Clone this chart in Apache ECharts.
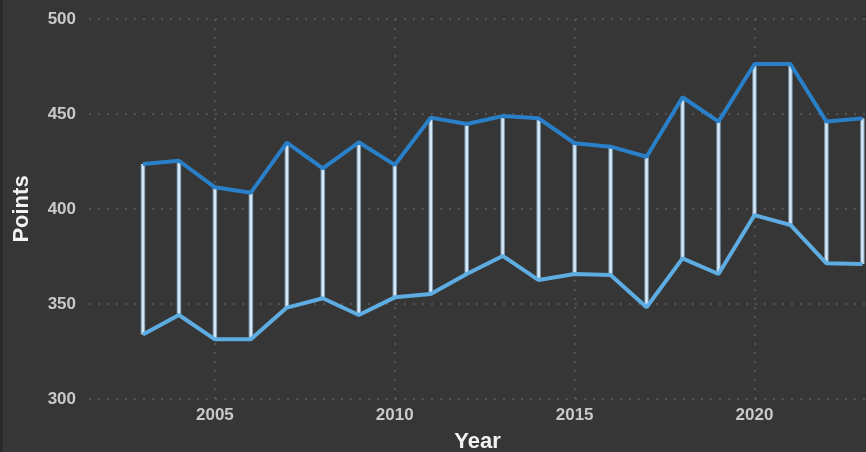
<!DOCTYPE html>
<html>
<head>
<meta charset="utf-8">
<script src="https://cdn.jsdelivr.net/npm/echarts@6/dist/echarts.min.js"></script>
<style>
  html, body { margin: 0; padding: 0; background: #363636; }
  #main { width: 866px; height: 452px; }
</style>
</head>
<body>
<div id="main"></div>
<script>
var years = [2003, 2004, 2005, 2006, 2007, 2008, 2009, 2010, 2011, 2012, 2013,
    2014, 2015, 2016, 2017, 2018, 2019, 2020, 2021, 2022, 2023]
var high = [423.7, 425.4, 411.4, 408.6, 434.9, 421.4, 435.1, 423.2, 448.1, 444.7, 448.9,
    447.7, 434.6, 432.8, 427.5, 458.8, 446.0, 476.3, 476.3, 446.0, 447.7]
var low = [334.0, 344.2, 331.4, 331.4, 348.1, 353.0, 344.2, 353.5, 355.3, 365.8, 375.3,
    362.6, 365.8, 365.3, 348.3, 374.0, 365.8, 396.8, 391.6, 371.4, 371.0]
var yearTicks = [2005, 2010, 2015, 2020]

var highData = years.map(function (y, i) { return [y, high[i]] })
var lowData = years.map(function (y, i) { return [y, low[i]] })
var rangeData = years.map(function (y, i) { return [y, low[i], high[i]] })

var labelFont = {
    color: '#c9c9c9',
    fontSize: 17,
    fontWeight: 'bold',
    fontFamily: 'Liberation Sans, Arial, sans-serif'
}
var nameFont = {
    color: '#f2f2f2',
    fontSize: 22,
    fontWeight: 'bold',
    fontFamily: 'Liberation Sans, Arial, sans-serif'
}
var dotted = { color: '#5e5e5e', type: [2, 7], width: 1.5 }

var option = {
    backgroundColor: '#363636',
    animation: false,
    grid: { left: 89, right: 0, top: 19, bottom: 53, outerBoundsMode: 'none', containLabel: false },
    graphic: [{
        type: 'rect',
        left: 0, top: 0,
        shape: { width: 3, height: 452 },
        style: { fill: '#2b2b2b' }
    }],
    xAxis: {
        type: 'value',
        min: 2001.5,
        max: 2023.1,
        name: 'Year',
        nameLocation: 'middle',
        nameGap: 32,
        nameTextStyle: nameFont,
        axisLine: { show: false },
        axisTick: { show: false, customValues: yearTicks },
        axisLabel: Object.assign({
            margin: 8,
            customValues: yearTicks,
            formatter: function (v) { return String(v) }
        }, labelFont),
        splitLine: { show: true, lineStyle: dotted }
    },
    yAxis: {
        type: 'value',
        min: 300,
        max: 500,
        interval: 50,
        name: 'Points',
        nameLocation: 'middle',
        nameGap: 56,
        nameTextStyle: nameFont,
        axisLine: { show: false },
        axisTick: { show: false },
        axisLabel: Object.assign({ margin: 13 }, labelFont),
        splitLine: { show: true, lineStyle: dotted }
    },
    series: [
        {
            // connectors between the two lines
            type: 'custom',
            data: rangeData,
            z: 1,
            clip: false,
            renderItem: function (params, api) {
                var top = api.coord([api.value(0), api.value(2)])
                var bot = api.coord([api.value(0), api.value(1)])
                return {
                    type: 'group',
                    children: [{
                        type: 'line',
                        shape: { x1: top[0], y1: top[1], x2: bot[0], y2: bot[1] },
                        style: { stroke: '#7f98ad', lineWidth: 4.5 }
                    }, {
                        type: 'line',
                        shape: { x1: top[0], y1: top[1], x2: bot[0], y2: bot[1] },
                        style: { stroke: '#d3e7f7', lineWidth: 2.5 }
                    }]
                }
            }
        },
        {
            name: 'low',
            type: 'line',
            data: lowData,
            z: 3,
            symbol: 'none',
            lineStyle: { color: '#5dade2', width: 4 }
        },
        {
            name: 'high',
            type: 'line',
            data: highData,
            z: 3,
            symbol: 'none',
            lineStyle: { color: '#2a7fc9', width: 4 }
        }
    ]
}

var myChart = echarts.init(document.getElementById('main'))
myChart.setOption(option)
</script>
</body>
</html>
